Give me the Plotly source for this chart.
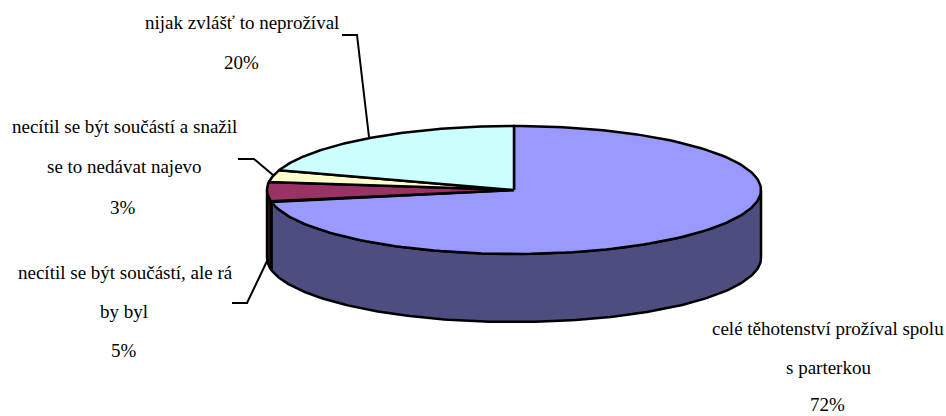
import numpy as np
import plotly.graph_objects as go

# Data
categories = [
    "celé těhotenství prožíval spolu s parterkou",
    "necítil se být součástí, ale rá by byl",
    "necítil se být součástí a snažil se to nedávat najevo",
    "nijak zvlášť to neprožíval",
]
values = [72, 5, 3, 20]
label_lines = [
    ["celé těhotenství prožíval spolu", "s parterkou", "72%"],
    ["necítil se být součástí, ale rá", "by byl", "5%"],
    ["necítil se být součástí a snažil", "se to nedávat najevo", "3%"],
    ["nijak zvlášť to neprožíval", "20%"],
]
top_colors = ["#9999FF", "#993366", "#FFFFCC", "#CCFFFF"]
side_colors = ["#4D4D80", "#2B0E1D", "#808066", "#668080"]

# Layout of the drawing (pixels of the 946x416 page)
CX, CY, RX, RY, DEPTH = 514, 190, 247, 64, 68
label_xy = [
    [(828, 328), (828, 367), (827, 404)],
    [(125, 272), (124, 311), (124, 350)],
    [(124, 126), (124, 166), (123, 207)],
    [(242, 22), (241, 62)],
]
leaders = [
    None,
    [(232, 303), (247, 303), (268, 259)],
    [(238, 159), (254, 159), (273, 175)],
    [(342, 35), (357, 35), (369, 137)],
]
FONT = "Liberation Serif"
LW = 2.5


def rim(a, b, n=160):
    t = np.radians(np.linspace(a, b, n))
    return CX + RX * np.sin(t), CY - RY * np.cos(t)


fig = go.Figure()
ends = np.cumsum(values) / sum(values) * 360
starts = np.concatenate([[0], ends[:-1]])


def add_poly(x, y, color):
    fig.add_trace(go.Scatter(
        x=x, y=y, mode="lines", fill="toself", fillcolor=color,
        line=dict(color="black", width=LW), hoverinfo="skip", showlegend=False,
    ))


# Side walls: only the front half of the rim (90..270 degrees) is visible
for a, b, c in zip(starts, ends, side_colors):
    lo, hi = max(a, 90), min(b, 270)
    if lo >= hi:
        continue
    x, y = rim(lo, hi)
    add_poly(np.r_[x, x[::-1], x[0]], np.r_[y, y[::-1] + DEPTH, y[0]], c)

# Top faces
for a, b, c in zip(starts, ends, top_colors):
    x, y = rim(a, b)
    add_poly(np.r_[CX, x, CX], np.r_[CY, y, CY], c)

# Leader lines
for pts in leaders:
    if pts:
        fig.add_trace(go.Scatter(
            x=[p[0] for p in pts], y=[p[1] for p in pts], mode="lines",
            line=dict(color="black", width=2), hoverinfo="skip", showlegend=False,
        ))

annotations = []
for lines, xy in zip(label_lines, label_xy):
    for text, (x, y) in zip(lines, xy):
        annotations.append(dict(
            x=x, y=y, xref="x", yref="y", text=text, showarrow=False,
            xanchor="center", yanchor="middle",
            font=dict(family=FONT, size=19, color="black"),
        ))

fig.update_layout(
    width=946, height=416, margin=dict(l=0, r=0, t=0, b=0),
    paper_bgcolor="white", plot_bgcolor="white", showlegend=False,
    annotations=annotations,
    xaxis=dict(range=[0, 946], visible=False, fixedrange=True),
    yaxis=dict(range=[416, 0], visible=False, fixedrange=True),
)
fig.write_html(
    "out.html",
    config={"displayModeBar": False},
    post_script="document.body.style.margin='0';document.documentElement.style.overflow='hidden';",
)
